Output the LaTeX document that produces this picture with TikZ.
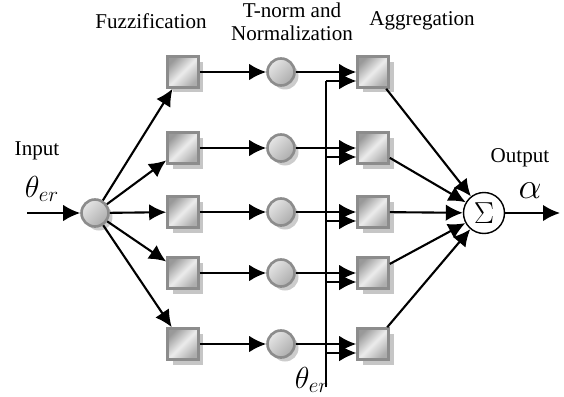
\documentclass[tikz,border=0pt]{standalone}
\usepackage{fontspec}
\setmainfont{Liberation Serif}
\usetikzlibrary{arrows.meta,shadows}
\tikzset{
    fuzbox/.style={draw=gray!90, line width=1.5pt, minimum size=0.62cm, inner sep=0pt,
        top color=gray!80, bottom color=gray!65, middle color=gray!15, shading angle=45,
        drop shadow={shadow xshift=0.1cm, shadow yshift=-0.1cm, fill=gray!45, opacity=1}},
    neuron/.style={circle, draw=gray!90, line width=1.5pt, minimum size=0.54cm, inner sep=0pt,
        top color=gray!20, bottom color=gray!65, shading angle=45,
        drop shadow={shadow xshift=0.08cm, shadow yshift=-0.08cm, fill=gray!40, opacity=1}},
    sumnode/.style={circle, draw, line width=0.8pt, minimum size=0.82cm, inner sep=0pt, fill=white},
    flow/.style={-{Latex[length=3.4mm,width=3.3mm]}, line width=1.2pt},
    feed/.style={-{Latex[length=3.4mm,width=3.3mm]}, line width=0.6pt},
    lbl/.style={font=\fontsize{12}{13}\selectfont, inner sep=0pt}
}
\newcommand\fdraw[2]{
        \draw[flow] (#1) -- (#2);
}

\begin{document}
\begin{tikzpicture}[x=0.02cm,y=-0.02cm]
    \useasboundingbox (0,0) rectangle (564,396);

    %draws titles:
    \node[lbl] (tfuz) at (151,21) {Fuzzification};
    \node[lbl, align=center] (tnorm) at (292,22) {T-norm and\\Normalization};
    \node[lbl] (tagg) at (422,21) {Aggregation};
    \node[lbl] (tin) at (37,151) {Input};
    \node[inner sep=0pt] (thin) at (42,189) {\LARGE$\theta_{er}$};
    \node[lbl] (tout) at (520,158) {Output};
    \node[inner sep=0pt] (alph) at (530,191) {\huge$\alpha$};
    \node[inner sep=0pt] (thbot) at (312,380) {\LARGE$\theta_{er}$};

    %draws input and output:
    \coordinate (start) at (27,213);
    \node[neuron] (inp) at (95,213) {};
    \node[sumnode] (sum) at (484,213) {\LARGE$\Sigma$};
    \coordinate (stop) at (560,213);

    %draws the three layers:
    \node[fuzbox] (fuzA) at (183,72)  {};
    \node[fuzbox] (fuzB) at (183,148) {};
    \node[fuzbox] (fuzC) at (183,212) {};
    \node[fuzbox] (fuzD) at (183,273) {};
    \node[fuzbox] (fuzE) at (183,344) {};

    \node[neuron] (nrmA) at (281,72)  {};
    \node[neuron] (nrmB) at (281,148) {};
    \node[neuron] (nrmC) at (281,212) {};
    \node[neuron] (nrmD) at (281,273) {};
    \node[neuron] (nrmE) at (281,344) {};

    \node[fuzbox] (aggA) at (373,72)  {};
    \node[fuzbox] (aggB) at (373,148) {};
    \node[fuzbox] (aggC) at (373,212) {};
    \node[fuzbox] (aggD) at (373,273) {};
    \node[fuzbox] (aggE) at (373,344) {};

    %draws the feedback line:
    \coordinate (vbot) at (326,387);
    \coordinate (brA) at (326,81);
    \coordinate (brB) at (326,157);
    \coordinate (brC) at (326,221);
    \coordinate (brD) at (326,282);
    \coordinate (brE) at (326,353);
    \draw[line width=1pt] (vbot) -- (brA);
    \draw[feed] (brA) -- (brA -| aggA.west);
    \draw[feed] (brB) -- (brB -| aggB.west);
    \draw[feed] (brC) -- (brC -| aggC.west);
    \draw[feed] (brD) -- (brD -| aggD.west);
    \draw[feed] (brE) -- (brE -| aggE.west);

    %draws all connections:
    \fdraw{start}{inp}
    \fdraw{inp}{fuzA}
    \fdraw{inp}{fuzB}
    \fdraw{inp}{fuzC}
    \fdraw{inp}{fuzD}
    \fdraw{inp}{fuzE}

    \fdraw{fuzA}{nrmA}
    \fdraw{fuzB}{nrmB}
    \fdraw{fuzC}{nrmC}
    \fdraw{fuzD}{nrmD}
    \fdraw{fuzE}{nrmE}

    \fdraw{nrmA}{aggA}
    \fdraw{nrmB}{aggB}
    \fdraw{nrmC}{aggC}
    \fdraw{nrmD}{aggD}
    \fdraw{nrmE}{aggE}

    \fdraw{aggA}{sum}
    \fdraw{aggB}{sum}
    \fdraw{aggC}{sum}
    \fdraw{aggD}{sum}
    \fdraw{aggE}{sum}

    \fdraw{sum}{stop}

\end{tikzpicture}
\end{document}
